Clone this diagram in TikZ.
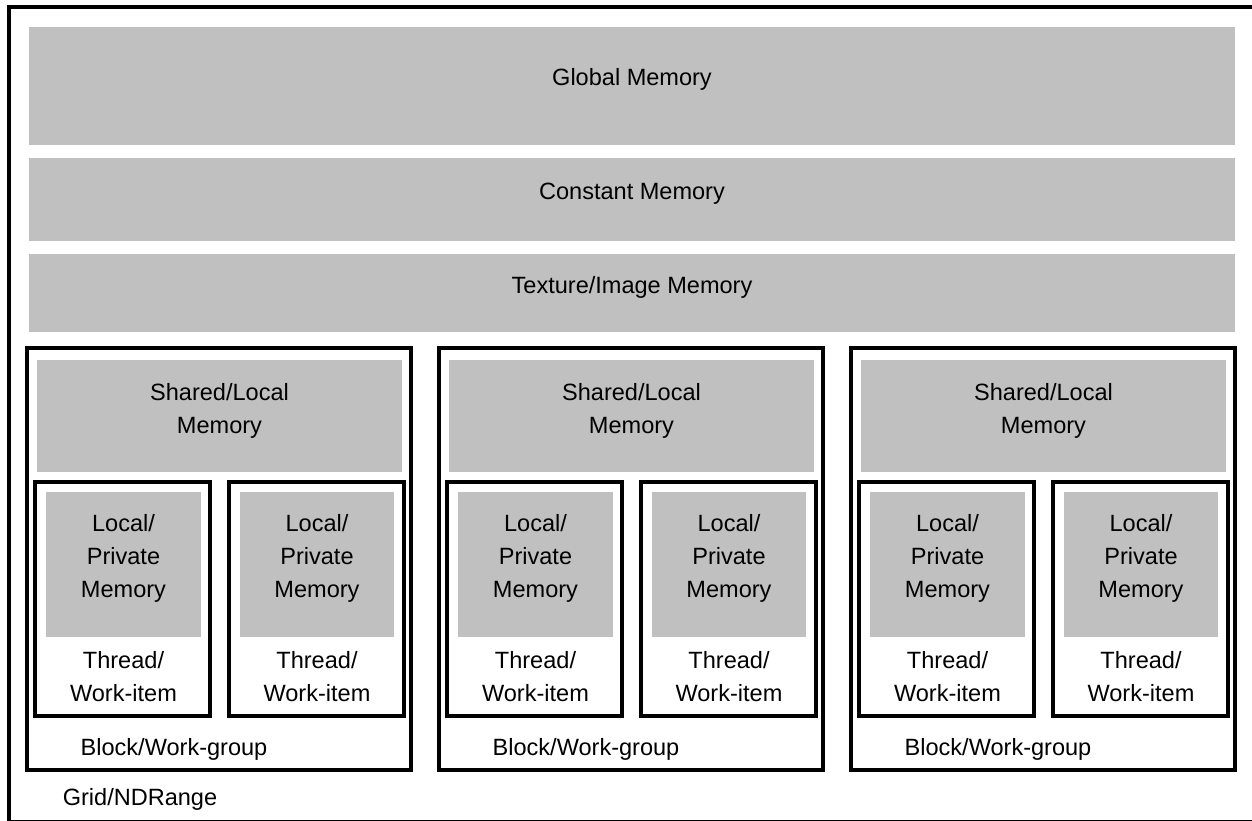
\documentclass[tikz,border=0pt]{standalone}
\usepackage{fontspec}
\setmainfont{Liberation Sans}
\usepackage{tikz}
\usetikzlibrary{positioning}
\definecolor{memgray}{HTML}{C0C0C0}

\begin{document}
\begin{tikzpicture}[x=0.02cm, y=-0.02cm,
  mem/.style={rectangle, fill=memgray, inner sep=0pt},
  boxframe/.style={rectangle, draw, line width=0.08cm, inner sep=0pt},
  lbl/.style={align=center, inner sep=0pt, font=\fontsize{13.4}{18.8}\selectfont},
]
  \useasboundingbox (0,0) rectangle (1252,821);
  \clip (0,0) rectangle (1252,821);
  \node[boxframe, minimum width=25.054cm, minimum height=16.3cm] (grid) at (635.65,414.5) {};

  \node[mem, minimum width=24.12cm, minimum height=2.36cm] (glob) at (632,86) {};
  \node[lbl] (glob-t) at (632,79) {Global Memory};
  \node[mem, minimum width=24.12cm, minimum height=1.66cm] (const) at (632,199.5) {};
  \node[lbl] (const-t) at (632,194) {Constant Memory};
  \node[mem, minimum width=24.12cm, minimum height=1.56cm] (tex) at (632,293) {};
  \node[lbl] (tex-t) at (632,287) {Texture/Image Memory};

  \foreach \bx [count=\i] in {0,412,824} {
    \node[boxframe, minimum width=7.69cm, minimum height=8.44cm] (blk\i) at (219.25+\bx,559) {};
    \node[mem, minimum width=7.3cm, minimum height=2.24cm] (shm\i) at (219.5+\bx,416) {};
    \node[lbl] (shm\i-t) at (219.5+\bx,410.5) {Shared/Local\\Memory};
    \foreach \tx [count=\j] in {0,193.5} {
      \node[boxframe, minimum width=3.51cm, minimum height=4.7cm] (thr\i\j) at (122.75+\bx+\tx,599) {};
      \node[mem, minimum width=3.1cm, minimum height=2.9cm] (prv\i\j) at (123.5+\bx+\tx,564.5) {};
      \node[lbl] (prv\i\j-t) at (123.5+\bx+\tx,558) {Local/\\Private\\Memory};
      \node[lbl] (thr\i\j-t) at (123.5+\bx+\tx,677) {Thread/\\Work-item};
    }
    \node[lbl] (blk\i-t) at (174+\bx,749) {Block/Work-group};
  }
  \node[lbl] (grid-t) at (140,799) {Grid/NDRange};
\end{tikzpicture}
\end{document}
